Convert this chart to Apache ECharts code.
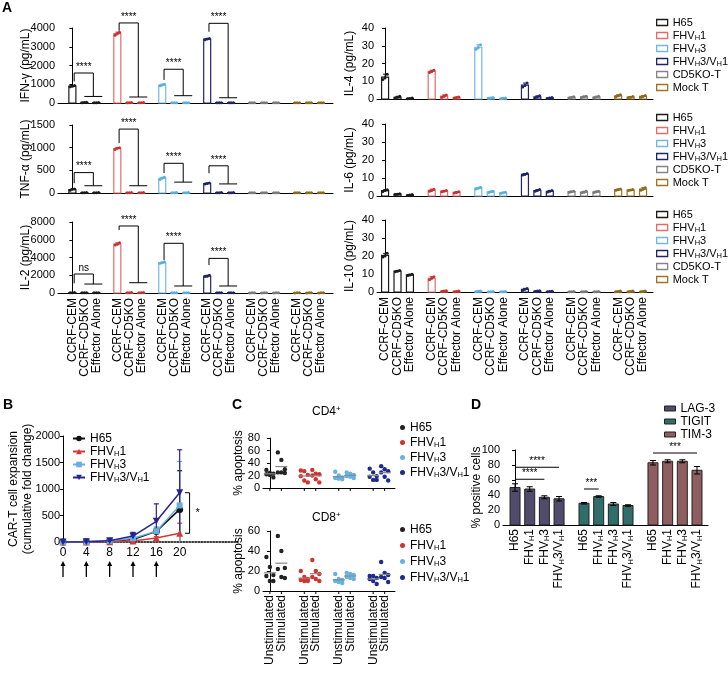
<!DOCTYPE html>
<html>
<head>
<meta charset="utf-8">
<script src="https://cdn.jsdelivr.net/npm/echarts/dist/echarts.min.js"></script>
<style>
  html, body { margin: 0; padding: 0; background: #fff; }
  #main { width: 728px; height: 674px; }
</style>
</head>
<body>
<div id="main"></div>
<script>
var FONT = '"Liberation Sans", Arial, Helvetica, sans-serif';

// ---------- panel A : cytokines ----------
var constructs = ['H65', 'FHVH1', 'FHVH3', 'FHVH3/VH1', 'CD5KO-T', 'Mock T'];
var targets = ['CCRF-CEM', 'CCRF-CD5KO', 'Effector Alone'];
var barColors = ['#1b1b1b', '#e26d6a', '#73b8e2', '#22246b', '#858585', '#9b7426'];
var dotColors = ['#1b1b1b', '#c9302c', '#5aaee0', '#22246b', '#7a7a7a', '#8d6a1e'];

// replicate values, per construct -> per target (CCRF-CEM, CCRF-CD5KO, Effector Alone)
var ifng = [
  [[870, 900, 940], [20, 30, 40], [10, 20, 30]],
  [[3620, 3700, 3780], [10, 20, 30], [10, 20, 30]],
  [[920, 960, 1000], [10, 15, 20], [10, 15, 20]],
  [[3370, 3410, 3440], [10, 15, 20], [10, 15, 20]],
  [[10, 15, 20], [10, 15, 20], [10, 15, 20]],
  [[10, 15, 20], [10, 15, 20], [10, 15, 20]]
];
var tnfa = [
  [[60, 80, 90], [5, 8, 10], [5, 8, 10]],
  [[960, 985, 1000], [5, 8, 10], [5, 8, 10]],
  [[300, 330, 345], [5, 8, 10], [5, 8, 10]],
  [[200, 210, 220], [5, 8, 10], [5, 8, 10]],
  [[3, 5, 8], [3, 5, 8], [3, 5, 8]],
  [[3, 5, 8], [3, 5, 8], [3, 5, 8]]
];
var il2 = [
  [[20, 40, 60], [20, 30, 40], [20, 30, 40]],
  [[5400, 5500, 5650], [30, 40, 50], [30, 40, 50]],
  [[3350, 3420, 3480], [20, 30, 40], [20, 30, 40]],
  [[1850, 1900, 2000], [20, 30, 40], [20, 30, 40]],
  [[10, 20, 30], [10, 20, 30], [10, 20, 30]],
  [[10, 20, 30], [10, 20, 30], [10, 20, 30]]
];
var il4 = [
  [[11, 12, 14], [0.5, 1, 1.5], [0.2, 0.3, 0.5]],
  [[15, 15.5, 16.2], [1, 1.6, 2.3], [0.5, 0.8, 1.1]],
  [[28, 29, 30.5], [0.4, 0.6, 0.9], [0.2, 0.4, 0.6]],
  [[6.8, 7.6, 9], [0.6, 1.1, 1.8], [0.3, 0.6, 0.9]],
  [[0.6, 0.9, 1.2], [0.8, 1.2, 1.6], [0.7, 1.1, 1.5]],
  [[1.2, 1.8, 2.4], [0.7, 1.0, 1.4], [1.0, 1.4, 2.0]]
];
var il6 = [
  [[2.5, 3, 3.5], [0.8, 1, 1.3], [0.3, 0.5, 0.8]],
  [[2.6, 3.1, 3.8], [2.3, 2.7, 3.1], [1.7, 2, 2.4]],
  [[3.9, 4.3, 4.8], [2, 2.3, 2.6], [1.5, 1.8, 2.1]],
  [[11.6, 12, 12.5], [2.6, 3, 3.6], [2.2, 2.6, 3.1]],
  [[2.1, 2.4, 2.7], [1.8, 2.1, 2.6], [2, 2.3, 2.7]],
  [[3.2, 3.5, 3.9], [3, 3.3, 3.6], [3.2, 3.7, 4.6]]
];
var il10 = [
  [[19.5, 20, 21.5], [11.2, 11.5, 12], [9.2, 9.5, 9.9]],
  [[6.8, 7.6, 8.5], [0.3, 0.5, 0.7], [0.2, 0.3, 0.5]],
  [[0.2, 0.4, 0.6], [0.1, 0.2, 0.3], [0.1, 0.2, 0.3]],
  [[1, 1.5, 2], [0.3, 0.5, 0.7], [0.2, 0.3, 0.4]],
  [[0.1, 0.2, 0.3], [0.1, 0.2, 0.3], [0.1, 0.2, 0.3]],
  [[0.2, 0.3, 0.5], [0.2, 0.3, 0.5], [0.2, 0.3, 0.5]]
];
// significance: [construct, bracket top, left foot, lower bar, text]
var ifngSig = [[0, 1600, 1150, 350, '****'], [1, 4270, 3850, 320, '****'], [2, 1800, 1230, 390, '****'], [3, 4250, 3800, 280, '****']];
var tnfaSig = [[0, 450, 215, 160, '****'], [1, 1410, 1100, 160, '****'], [2, 655, 440, 240, '****'], [3, 600, 435, 200, '****']];
var il2Sig = [[0, 2140, 1090, 1010, 'ns'], [1, 7550, 7100, 1160, '****'], [2, 5600, 3700, 790, '****'], [3, 3900, 3150, 790, '****']];

// ---------- panel B : expansion ----------
var bConstructs = ['H65', 'FHVH1', 'FHVH3', 'FHVH3/VH1'];
var days = [0, 4, 8, 12, 16, 20];
var expansion = [
  [1, 3, 12, 45, 200, 615],
  [1, 2, 6, 20, 75, 165],
  [1, 3, 18, 70, 205, 690],
  [1, 4, 25, 112, 390, 930]
];
var expansionErr = [
  [0, 1, 4, 15, 60, 730],
  [0, 1, 2, 8, 25, 190],
  [0, 1, 6, 30, 80, 830],
  [0, 2, 10, 70, 330, 810]
];
var stimDays = [0, 4, 8, 12, 16];
var bColors = ['#111111', '#d23a33', '#6aaee0', '#25258f'];
var bSymbols = ['circle', 'triangle', 'rect', 'triangle'];

// ---------- panel C : apoptosis ----------
var cConstructs = ['H65', 'FHVH1', 'FHVH3', 'FHVH3/VH1'];
var cConditions = ['Unstimulated', 'Stimulated'];
var cColors = ['#222222', '#d2322d', '#66b3e3', '#1c2a8c'];
var cd4 = [
  [[29, 24, 23, 22, 21, 17], [57, 45, 30, 25, 25, 24]],
  [[28, 27, 21, 19, 12, 9], [29, 23, 22, 20, 14, 9]],
  [[26, 20, 17, 16, 15, 14], [25, 23, 21, 19, 18, 16]],
  [[31, 25, 19, 18, 13, 13], [35, 30, 27, 25, 18, 12]]
];
var cd8 = [
  [[34, 24, 16, 15, 10, 10], [55, 40, 23, 22, 14, 13]],
  [[20, 14, 12, 11, 10, 10], [31, 20, 17, 14, 12, 10]],
  [[17, 12, 11, 10, 9, 8], [18, 17, 16, 14, 13, 12]],
  [[15, 15, 13, 12, 10, 7], [29, 18, 16, 14, 13, 9]]
];

// ---------- panel D : exhaustion markers ----------
var dMarkers = ['LAG-3', 'TIGIT', 'TIM-3'];
var dConstructs = ['H65', 'FHVH1', 'FHVH3', 'FHVH3/VH1'];
var dColors = ['#514c6c', '#2f6e6a', '#8e5e60'];
var dMean = [[50, 48, 37, 35], [29, 38, 28, 26], [83, 85, 85, 73]];
var dErr = [[5, 3, 2, 3], [1, 1, 2, 1], [3, 2, 2, 5]];
// [marker, from, to, y, text]
var dSig = [[0, 0, 3, 77, '****'], [0, 0, 2, 61, '****'], [1, 0, 1, 48, '***'], [2, 0, 3, 96, '***']];

// ---------- helpers ----------
function sub(s) { return s.replace(/VH/g, 'V{s|H}'); }
var RICH = {
  s: { fontSize: 7.5, fontFamily: FONT, padding: [5, 0, 0, 0], verticalAlign: 'bottom' },
  p: { fontSize: 8, fontFamily: FONT, padding: [0, 0, 6, 0], verticalAlign: 'top' }
};
function avg(a) { var t = 0; a.forEach(function (v) { t += v; }); return t / a.length; }
function posA(g, i) { return g * 3.75 + i; }
function posC(g, i) { return g * 3 + i; }
function posD(g, i) { return g * 4.7 + i; }
var black = { stroke: '#000', lineWidth: 1, fill: 'none' };

function cytoRender(ci) {
  return function (params, api) {
    var x = api.value(0);
    var base = api.coord([x, 0]);
    var top = api.coord([x, api.value(1)]);
    var lo = api.coord([x, api.value(2)]);
    var hi = api.coord([x, api.value(3)]);
    var w = 7;
    var kids = [
      { type: 'rect', shape: { x: base[0] - w / 2, y: top[1], width: w, height: Math.max(base[1] - top[1], 0) },
        style: { fill: '#fff', stroke: barColors[ci], lineWidth: 1.2 } },
      { type: 'line', shape: { x1: base[0], y1: hi[1], x2: base[0], y2: lo[1] }, style: { stroke: dotColors[ci], lineWidth: 1 } },
      { type: 'line', shape: { x1: base[0] - 2, y1: hi[1], x2: base[0] + 2, y2: hi[1] }, style: { stroke: dotColors[ci], lineWidth: 1 } }
    ];
    for (var k = 0; k < 3; k++) {
      var p = api.coord([x, api.value(4 + k)]);
      kids.push({ type: 'circle', shape: { cx: base[0] + (k - 1) * 2.2, cy: p[1], r: 1.5 }, style: { fill: dotColors[ci] } });
    }
    return { type: 'group', children: kids };
  };
}

function sigRender(sig) {
  return function (params, api) {
    var s = sig[api.value(2)];
    var cx = api.value(0);
    var L = api.coord([cx + 0.15, s[1]]), R = api.coord([cx + 1.75, s[1]]);
    var foot = api.coord([cx + 0.15, s[2]]);
    var low = api.coord([cx + 1.75, s[3]]);
    var l1 = api.coord([cx + 1.0, s[3]]), l2 = api.coord([cx + 2.5, s[3]]);
    return { type: 'group', children: [
      { type: 'polyline', shape: { points: [[L[0], foot[1]], L, R, [R[0], low[1]]] }, style: black },
      { type: 'line', shape: { x1: l1[0], y1: l1[1], x2: l2[0], y2: l2[1] }, style: black },
      { type: 'text', x: (L[0] + R[0]) / 2, y: L[1] - 1,
        style: { text: s[4], fill: '#000', fontSize: 10, fontFamily: FONT, align: 'center', verticalAlign: 'bottom' } }
    ] };
  };
}

function labelRender(texts, gap, tick) {
  return function (params, api) {
    var p = api.coord([api.value(0), 0]);
    var kids = [];
    if (texts) {
      kids.push({ type: 'text', x: p[0], y: p[1] + gap, rotation: Math.PI / 2,
        style: { text: texts[api.value(2)], fill: '#000', fontSize: 12, fontFamily: FONT, align: 'right', verticalAlign: 'middle', rich: RICH } });
    }
    if (tick) kids.push({ type: 'line', shape: { x1: p[0], y1: p[1], x2: p[0], y2: p[1] + 3 }, style: black });
    return { type: 'group', children: kids };
  };
}

function yAx(grid, max, interval, name, gap) {
  return {
    type: 'value', gridIndex: grid, min: 0, max: max, interval: interval,
    name: name, nameLocation: 'middle', nameGap: gap, nameMoveOverlap: false,
    nameTextStyle: { fontSize: 12, color: '#000', fontFamily: FONT, lineHeight: 14 },
    axisLine: { show: true, lineStyle: { color: '#000', width: 1 } },
    axisTick: { show: true, length: 3, lineStyle: { color: '#000' } },
    axisLabel: { fontSize: 11, color: '#000', margin: 3, fontFamily: FONT, formatter: function (v) { return String(v); } },
    splitLine: { show: false }
  };
}
function xAx(grid, min, max) {
  return {
    type: 'value', gridIndex: grid, min: min, max: max,
    axisLine: { show: true, onZero: false, lineStyle: { color: '#000', width: 1 } },
    axisTick: { show: false }, axisLabel: { show: false }, splitLine: { show: false }
  };
}
function grid(left, top, width, height) {
  return { left: left, top: top, width: width, height: height, outerBoundsMode: 'none', containLabel: false };
}

var grids = [
  grid(58, 28, 275, 75), grid(58, 125, 275, 68), grid(58, 222, 275, 71),
  grid(377, 28, 276, 71), grid(377, 124, 276, 72), grid(377, 220, 276, 72),
  grid(63, 436, 175, 106),
  grid(263, 438, 132, 50), grid(263, 531, 132, 60),
  grid(503, 450, 205, 75)
];
var xAxes = [
  xAx(0, -1.2, 21.75), xAx(1, -1.2, 21.75), xAx(2, -1.2, 21.75),
  xAx(3, -0.65, 21.55), xAx(4, -0.65, 21.55), xAx(5, -0.65, 21.55),
  {
    type: 'value', gridIndex: 6, min: 0, max: 30, interval: 4,
    axisLine: { show: true, onZero: false, lineStyle: { color: '#000', width: 1.5, type: 'dotted' } },
    axisTick: { show: false }, splitLine: { show: false },
    axisLabel: { fontSize: 12, color: '#000', margin: 5, fontFamily: FONT, formatter: function (v) { return v <= 20 ? String(v) : ''; } }
  },
  xAx(7, -0.6, 10.9), xAx(8, -0.6, 10.9),
  xAx(9, -0.82, 13.15)
];
var yAxes = [
  yAx(0, 4000, 1000, 'IFN-γ (pg/mL)', 25), yAx(1, 1500, 500, 'TNF-α (pg/mL)', 25), yAx(2, 8000, 2000, 'IL-2 (pg/mL)', 25),
  yAx(3, 40, 10, 'IL-4 (pg/mL)', 20), yAx(4, 40, 10, 'IL-6 (pg/mL)', 20), yAx(5, 40, 10, 'IL-10 (pg/mL)', 20),
  yAx(6, 2000, 500, 'CAR-T cell expansion\n(cumulative fold change)', 28),
  yAx(7, 80, 20, '% apoptosis', 17), yAx(8, 60, 20, '% apoptosis', 17),
  yAx(9, 100, 20, '% positive cells', 19)
];

var series = [];

// panel A
[ifng, tnfa, il2, il4, il6, il10].forEach(function (set, gi) {
  set.forEach(function (rows, ci) {
    series.push({
      type: 'custom', name: 'A|' + constructs[ci], xAxisIndex: gi, yAxisIndex: gi,
      encode: { x: 0, y: 1 }, renderItem: cytoRender(ci),
      itemStyle: { color: '#fff', borderColor: barColors[ci] },
      data: rows.map(function (dots, t) {
        return [posA(ci, t), avg(dots), Math.min.apply(null, dots), Math.max.apply(null, dots)].concat(dots);
      })
    });
  });
});
[ifngSig, tnfaSig, il2Sig].forEach(function (sig, gi) {
  series.push({
    type: 'custom', xAxisIndex: gi, yAxisIndex: gi, encode: { x: 0, y: 1 }, renderItem: sigRender(sig),
    data: sig.map(function (s, i) { return [posA(s[0], 0), 0, i]; })
  });
});
[2, 5].forEach(function (gi) {
  var d = [];
  constructs.forEach(function (c, g) { targets.forEach(function (t, i) { d.push([posA(g, i), 0, i]); }); });
  series.push({ type: 'custom', xAxisIndex: gi, yAxisIndex: gi, encode: { x: 0, y: 1 }, renderItem: labelRender(targets, 5, false), data: d });
});

// panel B
bConstructs.forEach(function (c, ci) {
  series.push({
    type: 'line', name: 'B|' + c, xAxisIndex: 6, yAxisIndex: 6,
    symbol: bSymbols[ci], symbolSize: ci === 2 ? 6 : 7, symbolRotate: ci === 3 ? 180 : 0,
    lineStyle: { color: bColors[ci], width: 1.5 }, itemStyle: { color: bColors[ci] },
    data: days.map(function (d, i) { return [d, expansion[ci][i]]; }), z: 3 + ci
  });
  series.push({
    type: 'custom', xAxisIndex: 6, yAxisIndex: 6, encode: { x: 0, y: 1 },
    renderItem: function (params, api) {
      var x = api.value(0), m = api.value(1), e = api.value(2);
      var hi = api.coord([x, m + e]), lo = api.coord([x, Math.max(m - e, 0)]);
      var st = { stroke: bColors[ci], lineWidth: 1.2 };
      return { type: 'group', children: [
        { type: 'line', shape: { x1: hi[0], y1: hi[1], x2: lo[0], y2: lo[1] }, style: st },
        { type: 'line', shape: { x1: hi[0] - 2.5, y1: hi[1], x2: hi[0] + 2.5, y2: hi[1] }, style: st }
      ] };
    },
    data: days.map(function (d, i) { return [d, expansion[ci][i], expansionErr[ci][i]]; }), z: 2
  });
});
series.push({
  type: 'custom', xAxisIndex: 6, yAxisIndex: 6, encode: { x: 0, y: 1 },
  renderItem: function (params, api) {
    var a = api.coord([20.9, api.value(1)]), b = api.coord([21.7, api.value(1)]);
    var c = api.coord([21.7, api.value(2)]), d = api.coord([20.9, api.value(2)]);
    return { type: 'group', children: [
      { type: 'polyline', shape: { points: [a, b, c, d] }, style: black },
      { type: 'text', x: b[0] + 6, y: (b[1] + c[1]) / 2, style: { text: '*', fill: '#000', fontSize: 11, fontFamily: FONT, align: 'left', verticalAlign: 'middle' } }
    ] };
  },
  data: [[21.7, expansion[3][5], expansion[1][5]]]
});
series.push({
  type: 'custom', xAxisIndex: 6, yAxisIndex: 6, encode: { x: 0, y: 1 },
  renderItem: function (params, api) {
    var p = api.coord([api.value(0), 0]);
    return { type: 'group', children: [
      { type: 'line', shape: { x1: p[0], y1: p[1] + 35, x2: p[0], y2: p[1] + 22 }, style: { stroke: '#000', lineWidth: 1.3 } },
      { type: 'polygon', shape: { points: [[p[0] - 2.5, p[1] + 24], [p[0] + 2.5, p[1] + 24], [p[0], p[1] + 19]] }, style: { fill: '#000' } }
    ] };
  },
  data: stimDays.map(function (d) { return [d, 0]; })
});

// panel C
[cd4, cd8].forEach(function (set, k) {
  var gi = 7 + k;
  set.forEach(function (rows, ci) {
    series.push({
      type: 'custom', name: 'C|' + cConstructs[ci], xAxisIndex: gi, yAxisIndex: gi, encode: { x: 0, y: 1 },
      itemStyle: { color: cColors[ci] },
      renderItem: function (params, api) {
        var x = api.value(0);
        var m = api.coord([x, api.value(1)]);
        var offs = [-3.5, 0, 3.5, -3.5, 0, 3.5];
        var kids = [];
        for (var j = 0; j < 6; j++) {
          var p = api.coord([x, api.value(2 + j)]);
          kids.push({ type: 'circle', shape: { cx: p[0] + offs[j], cy: p[1], r: 2.2 }, style: { fill: cColors[ci] } });
        }
        kids.push({ type: 'line', shape: { x1: m[0] - 6, y1: m[1], x2: m[0] + 6, y2: m[1] }, style: { stroke: '#888', lineWidth: 1.2 } });
        return { type: 'group', children: kids };
      },
      data: rows.map(function (vals, c) { return [posC(ci, c), avg(vals)].concat(vals); })
    });
  });
  var d = [];
  cConstructs.forEach(function (c, g) { cConditions.forEach(function (t, i) { d.push([posC(g, i), 0, i]); }); });
  series.push({ type: 'custom', xAxisIndex: gi, yAxisIndex: gi, encode: { x: 0, y: 1 },
    renderItem: labelRender(k === 1 ? cConditions : null, 4, true), data: d });
});

// panel D
dMarkers.forEach(function (mk, mi) {
  series.push({
    type: 'custom', name: 'D|' + mk, xAxisIndex: 9, yAxisIndex: 9, encode: { x: 0, y: 1 },
    itemStyle: { color: dColors[mi] },
    renderItem: function (params, api) {
      var x = api.value(0), m = api.value(1), e = api.value(2);
      var base = api.coord([x, 0]), top = api.coord([x, m]);
      var hi = api.coord([x, m + e]), lo = api.coord([x, m - e]);
      var w = 10;
      return { type: 'group', children: [
        { type: 'rect', shape: { x: base[0] - w / 2, y: top[1], width: w, height: base[1] - top[1] }, style: { fill: dColors[mi], stroke: '#222', lineWidth: 1 } },
        { type: 'line', shape: { x1: hi[0], y1: hi[1], x2: lo[0], y2: lo[1] }, style: black },
        { type: 'line', shape: { x1: hi[0] - 3, y1: hi[1], x2: hi[0] + 3, y2: hi[1] }, style: black },
        { type: 'line', shape: { x1: lo[0] - 3, y1: lo[1], x2: lo[0] + 3, y2: lo[1] }, style: black }
      ] };
    },
    data: dConstructs.map(function (c, k) { return [posD(mi, k), dMean[mi][k], dErr[mi][k]]; })
  });
});
series.push({
  type: 'custom', xAxisIndex: 9, yAxisIndex: 9, encode: { x: 0, y: 1 },
  renderItem: function (params, api) {
    var s = dSig[api.value(2)];
    var a = api.coord([posD(s[0], s[1]), s[3]]), b = api.coord([posD(s[0], s[2]), s[3]]);
    return { type: 'group', children: [
      { type: 'line', shape: { x1: a[0], y1: a[1], x2: b[0], y2: b[1] }, style: black },
      { type: 'text', x: (a[0] + b[0]) / 2, y: a[1] - 1, style: { text: s[4], fill: '#000', fontSize: 10, fontFamily: FONT, align: 'center', verticalAlign: 'bottom' } }
    ] };
  },
  data: dSig.map(function (s, i) { return [posD(s[0], s[1]), s[3], i]; })
});
(function () {
  var d = [];
  dMarkers.forEach(function (m, g) { dConstructs.forEach(function (c, i) { d.push([posD(g, i), 0, i]); }); });
  series.push({ type: 'custom', xAxisIndex: 9, yAxisIndex: 9, encode: { x: 0, y: 1 },
    renderItem: labelRender(dConstructs.map(sub), 4, false), data: d });
})();

// ---------- legends ----------
function legendFmt(name) { return sub(name.split('|')[1]); }
var legText = { fontSize: 12, color: '#000', fontFamily: FONT, lineHeight: 13, rich: RICH };
var legTextA = { fontSize: 11, color: '#000', fontFamily: FONT, lineHeight: 13, rich: RICH };
function aLegend(top) {
  return {
    orient: 'vertical', left: 656, top: top, padding: 0, itemGap: 0, itemWidth: 11, itemHeight: 6,
    icon: 'rect', formatter: legendFmt, textStyle: legTextA, selectedMode: false,
    data: constructs.map(function (c, i) {
      return { name: 'A|' + c, itemStyle: { color: '#fff', borderColor: barColors[i], borderWidth: 1.3 } };
    })
  };
}
var legends = [
  aLegend(16), aLegend(111), aLegend(208),
  {
    orient: 'vertical', left: 72, top: 432, padding: 0, itemGap: 0, itemWidth: 12, itemHeight: 7,
    formatter: legendFmt, textStyle: legText, selectedMode: false,
    data: bConstructs.map(function (c) { return 'B|' + c; })
  },
  {
    orient: 'vertical', left: 400, top: 421, padding: 0, itemGap: 2, itemWidth: 5, itemHeight: 5, icon: 'circle',
    formatter: legendFmt, textStyle: legText, selectedMode: false,
    data: cConstructs.map(function (c) { return 'C|' + c; })
  },
  {
    orient: 'vertical', left: 400, top: 523, padding: 0, itemGap: 3, itemWidth: 5, itemHeight: 5, icon: 'circle',
    formatter: legendFmt, textStyle: legText, selectedMode: false,
    data: cConstructs.map(function (c) { return 'C|' + c; })
  },
  {
    orient: 'vertical', left: 664, top: 402, padding: 0, itemGap: 0, itemWidth: 11, itemHeight: 5, icon: 'rect',
    formatter: legendFmt, textStyle: legText, selectedMode: false,
    data: dMarkers.map(function (m, i) { return { name: 'D|' + m, itemStyle: { color: dColors[i], borderColor: '#222', borderWidth: 1 } }; })
  }
];

function letter(t, x, y) {
  return { text: t, left: x, top: y, padding: 0, textStyle: { fontSize: 14, fontWeight: 'bold', fontFamily: FONT, color: '#000' } };
}
var titles = [
  letter('A', 2, 1), letter('B', 3, 398), letter('C', 232, 398), letter('D', 471, 398),
  { text: 'CD4{p|+}', left: 312, top: 405, padding: 0, textStyle: { fontSize: 12, fontWeight: 'normal', fontFamily: FONT, color: '#000', rich: RICH } },
  { text: 'CD8{p|+}', left: 312, top: 511, padding: 0, textStyle: { fontSize: 12, fontWeight: 'normal', fontFamily: FONT, color: '#000', rich: RICH } }
];

var chart = echarts.init(document.getElementById('main'), null, { renderer: 'canvas' });
chart.setOption({
  animation: false,
  backgroundColor: '#fff',
  textStyle: { fontFamily: FONT },
  title: titles,
  legend: legends,
  grid: grids,
  xAxis: xAxes,
  yAxis: yAxes,
  series: series
});
</script>
</body>
</html>
